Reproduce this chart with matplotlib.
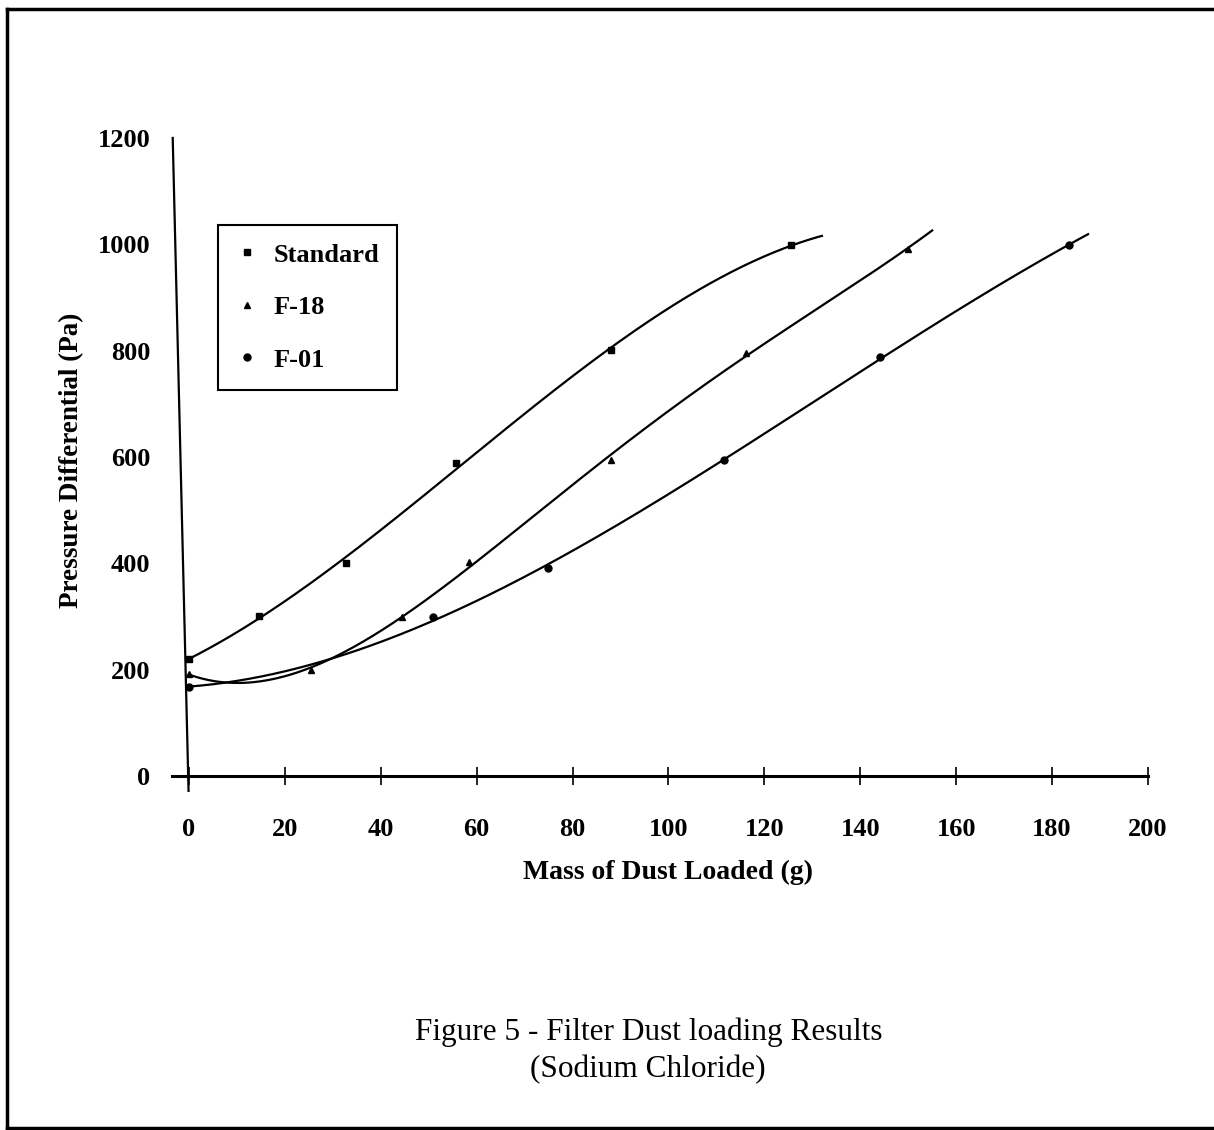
import numpy as np
import matplotlib.pyplot as plt
from matplotlib.lines import Line2D

plt.rcParams['font.family'] = ['Liberation Serif', 'DejaVu Serif']

# dust loading readings: mass loaded (g) vs pressure differential (Pa)
std_mass = [0, 14.6, 32.7, 55.7, 88, 125.5]
std_dp = [220, 301, 400, 588, 801, 998]
f18_mass = [0, 25.4, 44.4, 58.4, 88, 116.2, 149.9]
f18_dp = [192, 199, 299, 402, 594, 795, 992]
f01_mass = [0, 50.9, 74.9, 111.6, 144.1, 183.5]
f01_dp = [167, 299, 391, 594, 788, 998]

names = ['Standard', 'F-18', 'F-01']
markers = ['s', '^', 'o']
fit_order = [3, 4, 3]
fit_end = [132, 155, 187.5]   # trendlines run a little past the last reading

fig = plt.figure(figsize=(12.14, 11.3), dpi=100)
ax = fig.add_axes([0.1557, 0.3133, 0.7899, 0.5646])

data = [(std_mass, std_dp), (f18_mass, f18_dp), (f01_mass, f01_dp)]
for (mass, dp), name, mk, order, x_end in zip(data, names, markers, fit_order, fit_end):
    # polynomial trendline
    coef = np.polyfit(mass, dp, order)
    xs = np.linspace(0, x_end, 300)
    ax.plot(xs, np.polyval(coef, xs), color='black', lw=1.6, clip_on=False)
    ax.plot(mass, dp, mk, color='black', ms=5, label=name, clip_on=False)

ax.set_xlim(0, 200)
ax.set_ylim(0, 1200)
for s in ax.spines.values():
    s.set_visible(False)
# hand drawn axis lines
ax.plot([-3.5, 200], [0, 0], color='black', lw=2.2, clip_on=False)
ax.plot([-3.4, -0.1], [1200, -28], color='black', lw=1.6, clip_on=False)

ax.set_xticks(range(0, 201, 20))
ax.set_yticks(range(0, 1201, 200))
ax.tick_params(axis='x', direction='inout', length=13, width=1.2, pad=24, labelsize=19)
ax.tick_params(axis='y', length=0, pad=28, labelsize=19)
for lbl in ax.get_xticklabels() + ax.get_yticklabels():
    lbl.set_fontweight('bold')

ax.set_xlabel('Mass of Dust Loaded (g)', fontsize=20, fontweight='bold', labelpad=13)
ax.set_ylabel('Pressure Differential (Pa)', fontsize=19.5, fontweight='bold', va='center')
ax.yaxis.set_label_coords(-0.122, 0.495)

leg = ax.legend(loc='upper left', bbox_to_anchor=(0.030, 0.864), borderaxespad=0,
                fancybox=False, edgecolor='black', framealpha=1,
                prop={'weight': 'bold', 'size': 19}, handlelength=0.8,
                handletextpad=0.6, labelspacing=1.1, borderpad=0.7)
leg.get_frame().set_linewidth(1.5)

fig.text(0.534, 1 - 1032 / 1130, 'Figure 5 - Filter Dust loading Results',
         ha='center', va='center', fontsize=22.5)
fig.text(0.534, 1 - 1070 / 1130, '(Sodium Chloride)',
         ha='center', va='center', fontsize=22.5)

# page border
frame = dict(transform=fig.transFigure, color='black', lw=2.5)
fig.add_artist(Line2D([7 / 1214, 1], [1 - 9 / 1130] * 2, **frame))
fig.add_artist(Line2D([7 / 1214] * 2, [1 - 9 / 1130, 2 / 1130], **frame))
fig.add_artist(Line2D([7 / 1214, 1], [2 / 1130] * 2, **frame))

fig.savefig('out.png', dpi=100)
